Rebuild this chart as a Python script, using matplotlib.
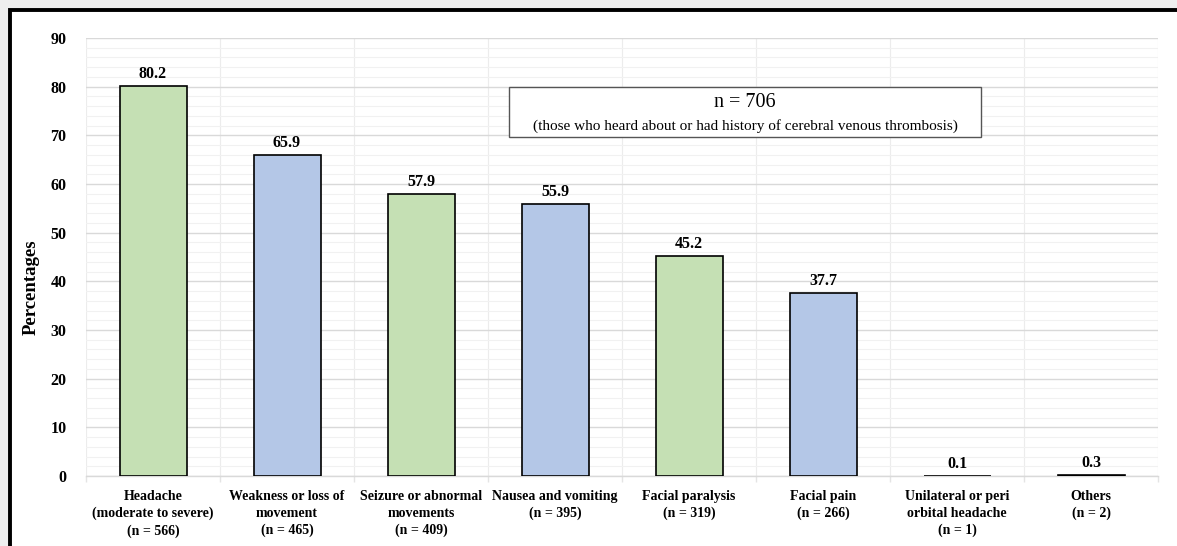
import matplotlib
matplotlib.use("Agg")
import matplotlib.pyplot as plt
from matplotlib.patches import Rectangle
from matplotlib.ticker import MultipleLocator, FixedLocator

plt.rcParams["font.family"] = ["Liberation Serif", "DejaVu Serif"]

categories = [
    "Headache\n(moderate to severe)\n(n = 566)",
    "Weakness or loss of\nmovement\n(n = 465)",
    "Seizure or abnormal\nmovements\n(n = 409)",
    "Nausea and vomiting\n(n = 395)",
    "Facial paralysis\n(n = 319)",
    "Facial pain\n(n = 266)",
    "Unilateral or peri\norbital headache\n(n = 1)",
    "Others\n(n = 2)",
]
percentages = [80.2, 65.9, 57.9, 55.9, 45.2, 37.7, 0.1, 0.3]
value_labels = ["80.2", "65.9", "57.9", "55.9", "45.2", "37.7", "0.1", "0.3"]
bar_colors = ["#c5e0b4", "#b4c7e7", "#c5e0b4", "#b4c7e7",
              "#c5e0b4", "#b4c7e7", "#c5e0b4", "#b4c7e7"]
y_ticks = [0, 10, 20, 30, 40, 50, 60, 70, 80, 90]
note_title = "n = 706"
note_sub = "(those who heard about or had history of cerebral venous thrombosis)"

W, H = 1177, 546
fig = plt.figure(figsize=(W / 100, H / 100), dpi=100)
fig.patch.set_facecolor("#efefef")

# white panel with a heavy black frame running off the right and bottom edges
frame = Rectangle((10 / W, -0.05), 1.1, (H - 10) / H + 0.05,
                  transform=fig.transFigure, facecolor="white",
                  edgecolor="black", linewidth=2.8, zorder=-1)
fig.patches.append(frame)

ax = fig.add_axes([86 / W, (H - 476) / H, (1158 - 86) / W, (476 - 38) / H])
ax.set_facecolor("none")

x = list(range(len(categories)))
ax.bar(x, percentages, width=0.5, color=bar_colors, edgecolor="black",
       linewidth=1.2, zorder=3)

for xi, v, lab in zip(x, percentages, value_labels):
    ax.text(xi, v + 0.8, lab, ha="center", va="bottom", fontsize=11.5,
            fontweight="bold", zorder=4)

ax.set_xlim(-0.5, len(categories) - 0.5)
ax.set_ylim(0, 90)

ax.yaxis.set_major_locator(FixedLocator(y_ticks))
ax.yaxis.set_minor_locator(MultipleLocator(2))
ax.set_xticks(x)
ax.set_xticklabels(categories, fontsize=10, fontweight="bold", linespacing=1.4)
ax.xaxis.set_minor_locator(FixedLocator([i + 0.5 for i in range(-1, len(categories))]))

for lab in ax.get_yticklabels():
    lab.set_fontweight("bold")
    lab.set_fontsize(11.5)

ax.tick_params(axis="y", which="both", length=0, pad=14)
ax.tick_params(axis="x", which="major", length=0, pad=10)
ax.tick_params(axis="x", which="minor", length=4, color="#e4e4e4", width=1)

ax.grid(axis="y", which="major", color="#d9d9d9", linewidth=1.0, zorder=1)
ax.grid(axis="y", which="minor", color="#f1f1f1", linewidth=0.8, zorder=0.5)
ax.grid(axis="x", which="minor", color="#ececec", linewidth=0.8, zorder=0.5)

for side in ["top", "right", "left"]:
    ax.spines[side].set_visible(False)
ax.spines["bottom"].set_color("#d9d9d9")
ax.spines["bottom"].set_linewidth(1.0)

ax.set_ylabel("Percentages", fontsize=13.5, fontweight="bold")
ax.yaxis.set_label_coords(-0.0436, 0.43)

# annotation box with sample size
box = Rectangle((2.657, 69.7), 6.18 - 2.657, 80.0 - 69.7,
                facecolor="white", edgecolor="#555555", linewidth=1.0, zorder=5)
ax.add_patch(box)
cx = (2.657 + 6.18) / 2
ax.text(cx, 76.8, note_title, ha="center", va="center", fontsize=14.5, zorder=6)
ax.text(cx, 72.0, note_sub, ha="center", va="center", fontsize=11, zorder=6)

fig.savefig("out.png", dpi=100, facecolor=fig.get_facecolor())
